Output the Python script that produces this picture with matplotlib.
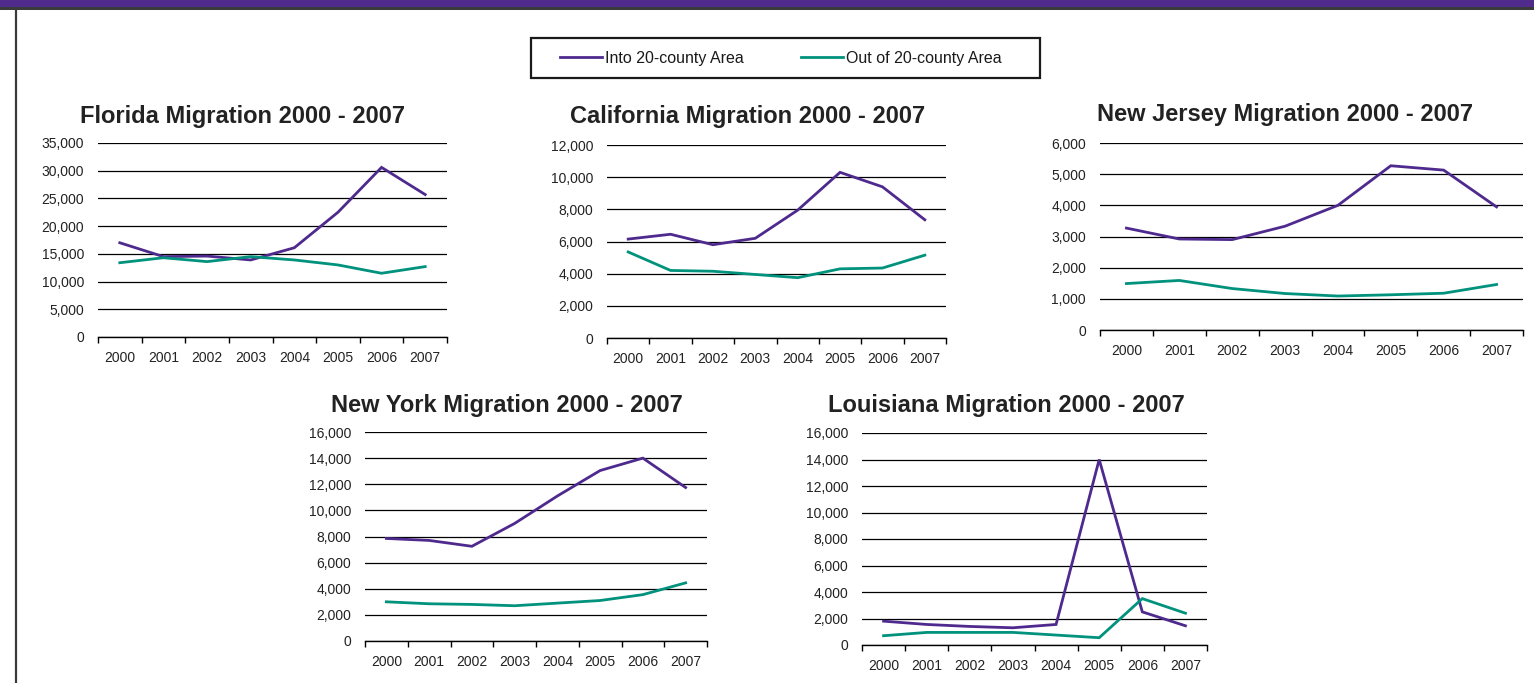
import matplotlib.pyplot as plt
from matplotlib.patches import Rectangle
from matplotlib.lines import Line2D
from matplotlib.ticker import FuncFormatter, MultipleLocator
import numpy as np

plt.rcParams['font.family'] = ['Liberation Sans', 'DejaVu Sans']

years = ['2000', '2001', '2002', '2003', '2004', '2005', '2006', '2007']

florida_in = [17000, 14500, 14600, 13900, 16100, 22500, 30600, 25700]
florida_out = [13400, 14300, 13600, 14500, 13900, 13000, 11500, 12700]

california_in = [6150, 6450, 5800, 6200, 7950, 10300, 9400, 7350]
california_out = [5350, 4200, 4150, 3950, 3750, 4300, 4350, 5150]

newjersey_in = [3270, 2920, 2900, 3330, 4000, 5270, 5130, 3950]
newjersey_out = [1490, 1590, 1330, 1170, 1090, 1130, 1180, 1460]

newyork_in = [7850, 7700, 7250, 9000, 11100, 13050, 14000, 11750]
newyork_out = [3000, 2850, 2800, 2700, 2900, 3100, 3550, 4450]

louisiana_in = [1800, 1550, 1400, 1300, 1550, 14000, 2500, 1450]
louisiana_out = [700, 950, 950, 950, 750, 550, 3500, 2400]

titles = ['Florida Migration 2000 - 2007', 'California Migration 2000 - 2007',
          'New Jersey Migration 2000 - 2007', 'New York Migration 2000 - 2007',
          'Louisiana Migration 2000 - 2007']
series_in = [florida_in, california_in, newjersey_in, newyork_in, louisiana_in]
series_out = [florida_out, california_out, newjersey_out, newyork_out, louisiana_out]
y_max = [35000, 12000, 6000, 16000, 16000]
y_step = [5000, 2000, 1000, 2000, 2000]

W, H = 1534, 683
PURPLE = '#4f2a8e'
TEAL = '#00927c'

# pixel boxes: left, top, right, bottom
boxes = [(98, 143, 447, 337), (607, 145, 946, 338), (1100, 143, 1523, 330),
         (365, 432, 707, 641), (862, 433, 1207, 645)]
title_pos = [(243, 116), (748, 116), (1285, 115), (507, 405), (1006, 405)]

fig = plt.figure(figsize=(W / 100, H / 100), dpi=100)

# header band and left border
fig.patches.append(Rectangle((0, 1 - 7 / H), 1, 7 / H, transform=fig.transFigure,
                             facecolor='#512b8b', edgecolor='none'))
fig.patches.append(Rectangle((0, 1 - 10 / H), 1, 3 / H, transform=fig.transFigure,
                             facecolor='#3a3a3a', edgecolor='none'))
fig.lines.append(Line2D([16 / W, 16 / W], [0, 1 - 10 / H], transform=fig.transFigure,
                        color='#3a3a3a', lw=1.6))

x = np.arange(len(years))
fmt = FuncFormatter(lambda v, p: f'{int(v):,}')

for i in range(5):
    l, t, r, b = boxes[i]
    ax = fig.add_axes([l / W, 1 - b / H, (r - l) / W, (b - t) / H])
    ax.plot(x, series_in[i], color=PURPLE, lw=2.0, solid_joinstyle='miter')
    ax.plot(x, series_out[i], color=TEAL, lw=2.0, solid_joinstyle='miter')
    ax.set_xlim(-0.5, len(years) - 0.5)
    ax.set_ylim(0, y_max[i])
    ax.yaxis.set_major_locator(MultipleLocator(y_step[i]))
    ax.yaxis.set_major_formatter(fmt)
    ax.set_xticks(x)
    ax.set_xticklabels(years)
    ax.set_xticks(np.arange(-0.5, len(years)), minor=True)
    ax.tick_params(axis='x', which='major', length=0, pad=10, labelsize=10, colors='#222222')
    ax.tick_params(axis='x', which='minor', length=4, width=1, direction='out', color='black')
    ax.tick_params(axis='y', length=0, pad=10, labelsize=10, labelcolor='#222222')
    for s in ['left', 'top', 'right']:
        ax.spines[s].set_visible(False)
    ax.spines['bottom'].set_color('black')
    ax.spines['bottom'].set_linewidth(1)
    ax.grid(axis='y', color='black', lw=0.9)
    ax.set_axisbelow(True)
    tx, ty = title_pos[i]
    fig.text(tx / W, 1 - ty / H, titles[i], ha='center', va='center',
             fontsize=17, fontweight='bold', color='#222222')

# legend box drawn by hand, legend itself frameless
fig.patches.append(Rectangle((531 / W, 1 - 78 / H), 509 / W, 40 / H,
                             transform=fig.transFigure, facecolor='white',
                             edgecolor='#1a1a1a', lw=1.6, zorder=0))
handles = [Line2D([], [], color=PURPLE, lw=2.0), Line2D([], [], color=TEAL, lw=2.0)]
fig.legend(handles, ['Into 20-county Area', 'Out of 20-county Area'],
           loc='center', bbox_to_anchor=(781 / W, 1 - 58 / H), ncol=2,
           fontsize=11.5, frameon=False, handlelength=2.6,
           handletextpad=0.2, columnspacing=3.6, borderpad=0.2,
           labelcolor='#1a1a1a')

fig.savefig('out.png', dpi=100)
